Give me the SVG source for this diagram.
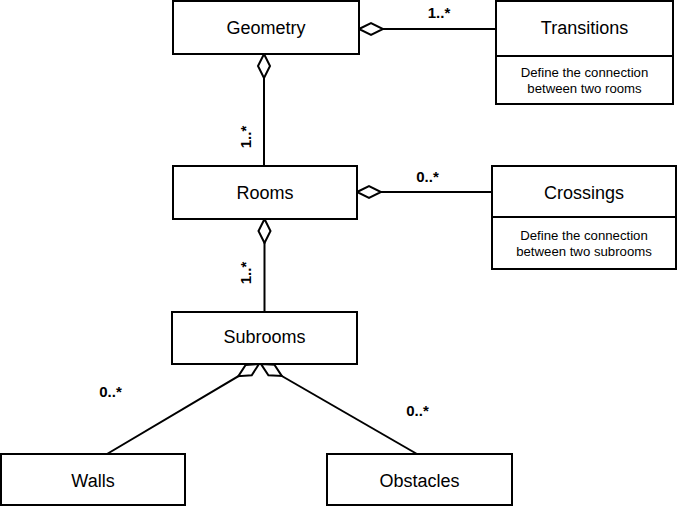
<svg xmlns="http://www.w3.org/2000/svg" width="677" height="507" viewBox="0 0 677 507">
<style>
.box{fill:#fff;stroke:#000;stroke-width:2}
.ln{fill:none;stroke:#000;stroke-width:2}
.name{font-family:"Liberation Sans",Arial,sans-serif;font-size:18px;text-anchor:middle;fill:#000}
.note{font-family:"Liberation Sans",Arial,sans-serif;font-size:13.2px;text-anchor:middle;fill:#000}
.mult{font-family:"Liberation Sans",Arial,sans-serif;font-size:15px;font-weight:bold;text-anchor:middle;fill:#000}
</style>
<defs>
<marker id="dia" markerUnits="userSpaceOnUse" markerWidth="28" markerHeight="16" viewBox="-2 -2 28 16" refX="0" refY="6" orient="auto" overflow="visible">
<polygon points="0,6 12,0 24,6 12,12" fill="#fff" stroke="#000" stroke-width="2" stroke-linejoin="miter"/>
</marker>
</defs>
<rect width="677" height="507" fill="#fff"/>
<g id="connectors">
<path class="ln" d="M359,29 L496,29" marker-start="url(#dia)"/>
<path class="ln" d="M264,54 L264,166" marker-start="url(#dia)"/>
<path class="ln" d="M357,192 L492,192" marker-start="url(#dia)"/>
<path class="ln" d="M264.5,219 L264.5,312" marker-start="url(#dia)"/>
<path class="ln" d="M259,364 L107,454" marker-start="url(#dia)"/>
<path class="ln" d="M261,364 L417,454" marker-start="url(#dia)"/>
<text class="mult" x="439" y="18">1..*</text>
<text class="mult" transform="translate(251,137) rotate(-90)">1..*</text>
<text class="mult" x="427.5" y="182">0..*</text>
<text class="mult" transform="translate(251,273) rotate(-90)">1..*</text>
<text class="mult" x="110.5" y="397">0..*</text>
<text class="mult" x="417.5" y="416">0..*</text>
</g>
<g id="geometry">
<rect class="box" x="173" y="1" width="186" height="53"/>
<text class="name" x="266" y="34">Geometry</text>
</g>
<g id="transitions">
<rect class="box" x="496" y="1" width="177" height="103"/>
<line class="ln" x1="496" y1="56" x2="673" y2="56"/>
<text class="name" x="584.5" y="33.5">Transitions</text>
<text class="note" x="584.5" y="76.5">Define the connection</text>
<text class="note" x="584.5" y="92.5">between two rooms</text>
</g>
<g id="rooms">
<rect class="box" x="173" y="166" width="184" height="53"/>
<text class="name" x="265" y="198.5">Rooms</text>
</g>
<g id="crossings">
<rect class="box" x="492" y="166" width="184" height="103"/>
<line class="ln" x1="492" y1="217" x2="676" y2="217"/>
<text class="name" x="584" y="198.5">Crossings</text>
<text class="note" x="584" y="239.5">Define the connection</text>
<text class="note" x="584" y="255.5">between two subrooms</text>
</g>
<g id="subrooms">
<rect class="box" x="172" y="312" width="185" height="52"/>
<text class="name" x="264.5" y="343">Subrooms</text>
</g>
<g id="walls">
<rect class="box" x="1" y="454" width="184" height="51"/>
<text class="name" x="93" y="486.5">Walls</text>
</g>
<g id="obstacles">
<rect class="box" x="327" y="454" width="185" height="51"/>
<text class="name" x="419.5" y="486.5">Obstacles</text>
</g>
</svg>
